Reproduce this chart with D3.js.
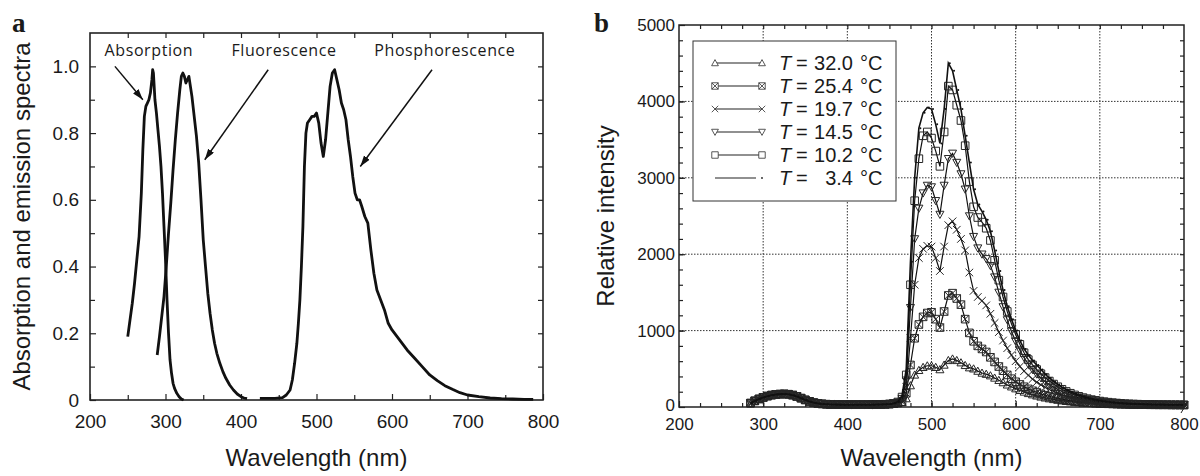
<!DOCTYPE html>
<html>
<head>
<meta charset="utf-8">
<script src="https://cdn.jsdelivr.net/npm/d3@7"></script>
<style>
body { margin: 0; background: #fff; }
svg text { font-family: "Liberation Sans", Arial, sans-serif; fill: #1a1a1a; }
</style>
</head>
<body>
<svg id="chart" width="1200" height="476"></svg>
<script>
// ---------- panel a : spectra ----------
var absWl  = [250,253,256,259,262,265,268,270,272,274,276,278,280,282,283,284,285,286,288,290,292,294,296,298,300,302,304,306,308,310,312,315,318,321,324]
var absVal = [0.19,0.24,0.29,0.35,0.42,0.49,0.62,0.75,0.85,0.88,0.89,0.90,0.92,0.96,0.99,0.98,0.94,0.90,0.86,0.81,0.76,0.70,0.62,0.52,0.42,0.30,0.20,0.12,0.08,0.05,0.035,0.02,0.01,0.003,0]

var fluWl  = [289,292,295,298,301,304,307,310,313,316,319,321,323,325,327,329,331,333,335,338,341,344,347,350,353,356,359,362,365,368,372,376,380,385,390,395,400,404,408]
var fluVal = [0.135,0.19,0.25,0.31,0.40,0.50,0.59,0.69,0.78,0.86,0.93,0.97,0.98,0.97,0.95,0.96,0.97,0.94,0.91,0.85,0.79,0.71,0.60,0.48,0.40,0.32,0.26,0.21,0.17,0.14,0.11,0.085,0.065,0.045,0.03,0.018,0.01,0.006,0.004]

var phoWl  = [425,435,445,455,460,465,468,471,474,476,478,480,482,484,486,488,491,494,497,500,503,506,509,512,515,518,521,524,527,530,533,536,539,542,545,548,551,554,557,560,564,568,572,576,580,585,590,595,600,610,620,630,640,650,660,670,680,690,700,715,730,745,760,775,787]
var phoVal = [0.005,0.005,0.005,0.007,0.015,0.03,0.06,0.11,0.17,0.23,0.30,0.40,0.52,0.70,0.80,0.83,0.84,0.85,0.85,0.86,0.83,0.77,0.73,0.78,0.86,0.94,0.98,0.99,0.96,0.93,0.89,0.87,0.84,0.78,0.73,0.67,0.62,0.60,0.60,0.58,0.55,0.53,0.45,0.38,0.33,0.30,0.27,0.23,0.21,0.18,0.15,0.125,0.10,0.075,0.058,0.043,0.032,0.022,0.015,0.01,0.006,0.004,0.003,0.002,0.002]

var aXTicks = [200,300,400,500,600,700,800]
var aYTicks = [0,0.2,0.4,0.6,0.8,1.0]

// labels with arrows, in data units: text at (tx,ty), arrow from (x1,y1) to (x2,y2)
var notes = [
	{text: "Absorption",      tx: 278, ty: 1.03, x1: 233, y1: 1.0,  x2: 270, y2: 0.90},
	{text: "Fluorescence",    tx: 457, ty: 1.03, x1: 436, y1: 0.99, x2: 352, y2: 0.72},
	{text: "Phosphorescence", tx: 670, ty: 1.03, x1: 653, y1: 0.99, x2: 558, y2: 0.70}
]

// ---------- panel b : temperature series ----------
var wlB = [285,290,295,300,305,310,315,320,325,330,335,340,345,350,355,360,365,370,375,380,
	385,390,395,400,405,410,415,420,425,430,435,440,445,450,455,460,465,470,475,480,
	485,490,495,500,505,510,515,520,525,530,535,540,545,550,555,560,565,570,575,580,
	585,590,595,600,605,610,615,620,625,630,635,640,645,650,655,660,665,670,675,680,
	685,690,695,700,705,710,715,720,725,730,735,740,745,750,755,760,765,770,775,780,
	785,790,795,800]

var t320 = [48,78,102,122,140,152,160,165,167,163,152,135,112,90,70,56,46,40,36,33,32,31,30,30,30,30,30,30,30,31,32,33,34,37,40,
	48,60,110,280,420,480,520,540,540,520,490,550,610,630,610,
	580,545,515,500,470,445,430,410,380,350,320,290,265,240,218,197,178,161,146,132,120,109,99,90,82,75,69,63,58,54,
	50,47,44,41,39,37,35,34,33,32,31,30,30,29,29,28,28,28,27,27,27,26,26,26]
var t254 = [52,82,107,127,144,157,165,170,172,168,157,140,117,94,74,58,48,41,37,34,33,32,31,31,31,31,31,31,31,32,33,34,36,39,46,
	52,70,180,550,900,1080,1180,1230,1240,1150,1040,1250,1460,1490,1420,
	1340,1150,970,860,800,760,720,650,590,530,475,420,370,330,295,265,237,212,190,171,154,139,125,113,102,92,84,77,70,64,
	59,55,51,48,45,42,40,38,36,35,33,32,31,30,30,29,29,28,28,28,27,27,27,26]
var t197 = [50,80,104,124,141,154,162,167,169,165,154,137,114,91,71,57,47,40,36,33,32,31,30,30,30,30,30,30,30,31,32,33,35,38,45,
	55,90,260,900,1600,1950,2070,2110,2100,1950,1780,2100,2380,2430,2320,
	2200,2050,1760,1520,1440,1390,1330,1220,1100,980,870,770,680,600,530,470,415,365,325,290,258,230,205,182,162,144,128,114,102,91,
	82,74,67,61,56,51,47,44,41,39,37,35,33,32,31,30,30,29,29,28,28,28,27,27]
var t145 = [51,81,106,126,143,156,164,169,171,167,156,139,116,93,73,58,48,41,37,34,33,32,31,31,31,31,31,31,31,32,33,34,36,39,47,
	60,110,350,1300,2200,2600,2800,2900,2880,2700,2520,2900,3250,3320,3200,
	3050,2850,2500,2230,2080,2000,1940,1850,1700,1500,1310,1140,990,860,745,645,560,490,430,380,335,295,260,230,202,178,157,138,122,108,
	96,85,76,68,61,55,50,46,43,40,38,36,34,33,32,31,30,30,29,29,28,28,28,27]
var t102 = [50,79,104,124,142,155,163,168,170,166,155,138,115,92,72,57,47,40,36,33,32,31,30,30,30,30,30,30,30,31,32,33,35,38,46,
	65,130,420,1600,2700,3250,3550,3600,3520,3350,3150,3600,4200,4150,3950,
	3750,3420,2950,2620,2480,2420,2340,2180,1920,1660,1440,1250,1090,950,820,710,620,550,490,435,385,340,300,265,232,204,180,158,140,123,
	109,97,87,78,70,63,57,52,48,44,41,39,37,35,34,33,32,31,30,30,29,29,28,28]
var t34 = [50,80,105,125,142,155,163,168,170,166,155,138,115,92,72,57,47,40,36,33,32,31,30,30,30,30,30,30,30,31,32,33,35,38,47,
	70,150,500,1900,3000,3650,3850,3920,3900,3700,3450,3900,4500,4400,4150,
	3900,3550,3200,2850,2650,2560,2450,2300,2050,1780,1530,1320,1150,1000,870,760,680,610,550,490,430,380,335,295,260,228,200,176,155,137,
	121,107,95,85,76,68,62,56,51,47,44,41,39,37,35,34,33,32,31,30,30,29,29,28]

var tempLabels = ["32.0", "25.4", "19.7", "14.5", "10.2", "3.4"]
var markerTypes = ["triUp", "boxX", "cross", "triDown", "square", "dot"]
var bXTicks = [200,300,400,500,600,700,800]
var bYTicks = [0,1000,2000,3000,4000,5000]

var series = [t320, t254, t197, t145, t102, t34]

var svg = d3.select("#chart")

function markerPath(type) {
	if (type == "triUp") return "M0,-4L4,3.2L-4,3.2Z"
	if (type == "triDown") return "M0,4L4,-3.2L-4,-3.2Z"
	if (type == "square") return "M-3.8,-3.8h7.6v7.6h-7.6Z"
	if (type == "boxX") return "M-3.8,-3.8h7.6v7.6h-7.6ZM-3.8,-3.8L3.8,3.8M3.8,-3.8L-3.8,3.8"
	if (type == "cross") return "M-3.8,-3.8L3.8,3.8M3.8,-3.8L-3.8,3.8"
	return null
}

function tidy(g, size) {
	g.select(".domain").remove()
	g.selectAll(".tick line").attr("stroke", "#222").attr("stroke-width", 1.2)
	g.selectAll("text").attr("fill", "#1a1a1a").attr("font-family", "Liberation Sans, Arial, sans-serif").attr("font-size", size)
}

// arrowhead
svg.append("defs").append("marker")
	.attr("id", "arr")
	.attr("markerUnits", "userSpaceOnUse")
	.attr("markerWidth", 12).attr("markerHeight", 8)
	.attr("refX", 11).attr("refY", 3.5)
	.attr("orient", "auto")
	.append("path").attr("d", "M0,0L11,3.5L0,7Z").attr("fill", "#111")

// ================= panel a =================
var xa = d3.scaleLinear().domain([200, 800]).range([90, 543])
var ya = d3.scaleLinear().domain([0, 1.1]).range([400, 33])
var ga = svg.append("g")

ga.append("g").attr("transform", "translate(0,400)")
	.call(d3.axisBottom(xa).tickValues(aXTicks).tickSize(-6).tickPadding(15))
	.call(tidy, 19)
ga.append("g").attr("transform", "translate(0,400)")
	.call(d3.axisBottom(xa).tickValues([250,350,450,550,650,750]).tickSize(-5).tickFormat(""))
	.call(tidy, 19)
ga.append("g").attr("transform", "translate(0,33)")
	.call(d3.axisTop(xa).tickValues([250,300,350,400,450,500,550,600,650,700,750]).tickSize(-5).tickFormat(""))
	.call(tidy, 19)
ga.append("g").attr("transform", "translate(90,0)")
	.call(d3.axisLeft(ya).tickValues(aYTicks).tickSize(-6).tickPadding(11)
		.tickFormat(function(d) { return d == 0 ? "0" : d3.format(".1f")(d) }))
	.call(tidy, 19)
ga.append("g").attr("transform", "translate(90,0)")
	.call(d3.axisLeft(ya).tickValues([0.1,0.3,0.5,0.7,0.9]).tickSize(-5).tickFormat(""))
	.call(tidy, 19)
ga.append("g").attr("transform", "translate(543,0)")
	.call(d3.axisRight(ya).tickValues([0.1,0.2,0.3,0.4,0.5,0.6,0.7,0.8,0.9,1.0]).tickSize(-5).tickFormat(""))
	.call(tidy, 19)

ga.append("rect")
	.attr("x", 90).attr("y", 33).attr("width", 543 - 90).attr("height", 400 - 33)
	.attr("fill", "none").attr("stroke", "#222").attr("stroke-width", 1.6)

var lineA = d3.line().x(function(d) { return xa(d[0]) }).y(function(d) { return ya(d[1]) })
var spectra = [d3.zip(absWl, absVal), d3.zip(fluWl, fluVal), d3.zip(phoWl, phoVal)]
ga.selectAll(".spec").data(spectra).enter().append("path")
	.attr("class", "spec")
	.attr("d", lineA)
	.attr("fill", "none").attr("stroke", "#111").attr("stroke-width", 2.8)
	.attr("stroke-linejoin", "round")

notes.forEach(function(n) {
	ga.append("text")
		.attr("x", xa(n.tx)).attr("y", ya(n.ty))
		.attr("text-anchor", "middle")
		.style("font-family", "'Open Sans', sans-serif")
		.style("font-size", "16px")
		.style("letter-spacing", "0.6px")
		.text(n.text)
	ga.append("line")
		.attr("x1", xa(n.x1)).attr("y1", ya(n.y1))
		.attr("x2", xa(n.x2)).attr("y2", ya(n.y2))
		.attr("stroke", "#111").attr("stroke-width", 1.5)
		.attr("marker-end", "url(#arr)")
})

ga.append("text")
	.attr("transform", "translate(30," + (33 + 400) / 2 + ") rotate(-90)")
	.attr("text-anchor", "middle")
	.style("font-size", "24px")
	.text("Absorption and emission spectra")
ga.append("text")
	.attr("x", (90 + 543) / 2).attr("y", 466)
	.attr("text-anchor", "middle")
	.style("font-size", "24px")
	.text("Wavelength (nm)")
ga.append("text")
	.attr("x", 12).attr("y", 32)
	.style("font-family", "'Liberation Serif', serif").style("font-weight", "bold").style("font-size", "27px")
	.text("a")

// ================= panel b =================
var xb = d3.scaleLinear().domain([200, 800]).range([679, 1184])
var yb = d3.scaleLinear().domain([0, 5000]).range([407, 25])
var gb = svg.append("g")

// dotted grid
gb.selectAll(".vgrid").data([300,400,500,600,700]).enter().append("line")
	.attr("x1", function(d) { return xb(d) }).attr("x2", function(d) { return xb(d) })
	.attr("y1", 25).attr("y2", 407)
	.attr("stroke", "#333").attr("stroke-width", 1).attr("stroke-dasharray", "1.5,1.5")
gb.selectAll(".hgrid").data([1000,2000,3000,4000]).enter().append("line")
	.attr("y1", function(d) { return yb(d) }).attr("y2", function(d) { return yb(d) })
	.attr("x1", 679).attr("x2", 1184)
	.attr("stroke", "#333").attr("stroke-width", 1).attr("stroke-dasharray", "1.5,1.5")

var minorX = d3.range(225, 800, 25)
var minorY = d3.range(200, 5000, 200)
gb.append("g").attr("transform", "translate(0,407)")
	.call(d3.axisBottom(xb).tickValues(bXTicks).tickSize(-6).tickPadding(11))
	.call(tidy, 17)
gb.append("g").attr("transform", "translate(0,407)")
	.call(d3.axisBottom(xb).tickValues(minorX).tickSize(-4).tickFormat(""))
	.call(tidy, 17)
gb.append("g").attr("transform", "translate(0,25)")
	.call(d3.axisTop(xb).tickValues(minorX).tickSize(-4).tickFormat(""))
	.call(tidy, 17)
var yAxisB = gb.append("g").attr("transform", "translate(679,0)")
	.call(d3.axisLeft(yb).tickValues(bYTicks).tickSize(-6).tickPadding(4).tickFormat(d3.format("d")))
	.call(tidy, 17)
yAxisB.selectAll(".tick text").filter(function(d) { return d == 0 }).attr("dy", "0.2em")
gb.append("g").attr("transform", "translate(679,0)")
	.call(d3.axisLeft(yb).tickValues(minorY).tickSize(-4).tickFormat(""))
	.call(tidy, 17)
gb.append("g").attr("transform", "translate(1184,0)")
	.call(d3.axisRight(yb).tickValues(minorY).tickSize(-4).tickFormat(""))
	.call(tidy, 17)

// curves
var lineB = d3.line().x(function(d) { return xb(d[0]) }).y(function(d) { return yb(d[1]) })
series.forEach(function(vals, i) {
	var pts = d3.zip(wlB, vals)
	var g = gb.append("g")
	g.append("path").attr("d", lineB(pts))
		.attr("fill", "none").attr("stroke", "#111").attr("stroke-width", i == 5 ? 1.6 : 1.2)
	if (markerTypes[i] == "dot") {
		g.selectAll("circle").data(pts).enter().append("circle")
			.attr("cx", function(d) { return xb(d[0]) + 1.5 }).attr("cy", function(d) { return yb(d[1]) })
			.attr("r", 1).attr("fill", "#111")
	} else {
		g.selectAll(".mk").data(pts).enter().append("path")
			.attr("class", "mk")
			.attr("transform", function(d) { return "translate(" + xb(d[0]) + "," + yb(d[1]) + ")" })
			.attr("d", markerPath(markerTypes[i]))
			.attr("fill", "none").attr("stroke", "#262626").attr("stroke-width", 1)
	}
})

gb.append("rect")
	.attr("x", 679).attr("y", 25).attr("width", 1184 - 679).attr("height", 407 - 25)
	.attr("fill", "none").attr("stroke", "#222").attr("stroke-width", 1.5)

// axis break mark
gb.append("line").attr("x1", 1181).attr("y1", 413).attr("x2", 1188).attr("y2", 401)
	.attr("stroke", "#222").attr("stroke-width", 1)

// legend
var lg = gb.append("g")
lg.append("rect").attr("x", 693).attr("y", 41).attr("width", 203).attr("height", 160)
	.attr("fill", "#fff").attr("stroke", "#333").attr("stroke-width", 1)
tempLabels.forEach(function(t, i) {
	var y = 63 + i * 23
	var row = lg.append("g")
	row.append("line").attr("x1", 715).attr("x2", markerTypes[i] == "dot" ? 756 : 762)
		.attr("y1", y).attr("y2", y).attr("stroke", "#222").attr("stroke-width", 1.1)
	if (markerTypes[i] == "dot") {
		row.append("circle").attr("cx", 762).attr("cy", y).attr("r", 0.9).attr("fill", "#222")
	} else {
		[715, 762].forEach(function(x) {
			row.append("path").attr("transform", "translate(" + x + "," + y + ") scale(0.85)")
				.attr("d", markerPath(markerTypes[i]))
				.attr("fill", "#fff").attr("stroke", "#3a3a3a").attr("stroke-width", 1)
		})
	}
	var tx = row.append("text").attr("y", y + 7).style("font-size", "20px")
	tx.append("tspan").attr("x", 779).style("font-style", "italic").text("T")
	tx.append("tspan").attr("x", 796).text("=")
	row.append("text").attr("x", 853).attr("y", y + 7).attr("text-anchor", "end").style("font-size", "20px").text(t)
	row.append("text").attr("x", 860).attr("y", y + 7).style("font-size", "20px").text("°C")
})

gb.append("text")
	.attr("transform", "translate(614," + (25 + 407) / 2 + ") rotate(-90)")
	.attr("text-anchor", "middle")
	.style("font-size", "24px")
	.text("Relative intensity")
gb.append("text")
	.attr("x", (679 + 1184) / 2).attr("y", 466)
	.attr("text-anchor", "middle")
	.style("font-size", "24px")
	.text("Wavelength (nm)")
gb.append("text")
	.attr("x", 594).attr("y", 32)
	.style("font-family", "'Liberation Serif', serif").style("font-weight", "bold").style("font-size", "27px")
	.text("b")
</script>
</body>
</html>
